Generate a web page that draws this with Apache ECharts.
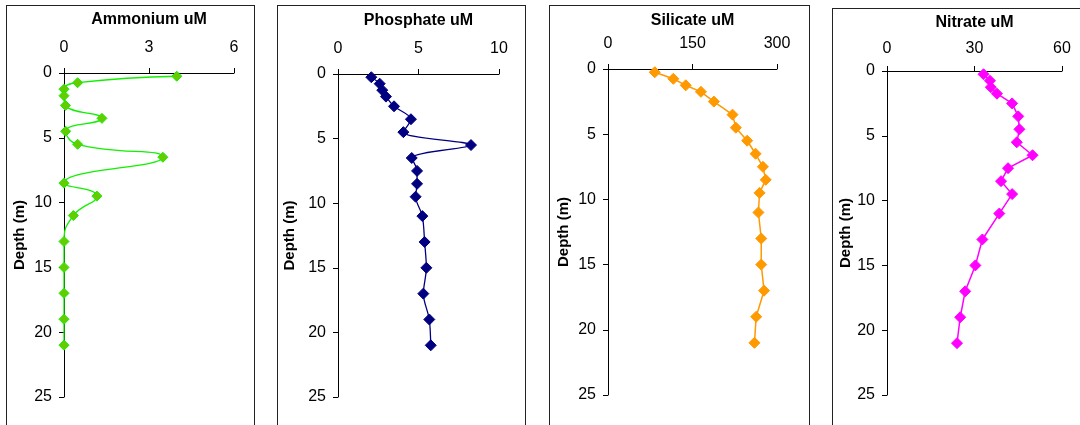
<!DOCTYPE html>
<html>
<head>
<meta charset="utf-8">
<script src="https://cdn.jsdelivr.net/npm/echarts@6/dist/echarts.min.js"></script>
<style>
  html, body { margin: 0; padding: 0; background: #fff; overflow: hidden; }
  body { width: 1080px; height: 425px; position: relative; }
  .panel { position: absolute; border: 1px solid #222; box-sizing: border-box; height: 460px; }
  .panel .chart { width: 100%; height: 458px; }
  #p1 { left: 6px; top: 5px; width: 249px; }
  #p2 { left: 277px; top: 5px; width: 249px; }
  #p3 { left: 549px; top: 5px; width: 261px; }
  #p4 { left: 832px; top: 8px; width: 262px; }
</style>
</head>
<body>
<div class="panel" id="p1"><div class="chart" id="c1"></div></div>
<div class="panel" id="p2"><div class="chart" id="c2"></div></div>
<div class="panel" id="p3"><div class="chart" id="c3"></div></div>
<div class="panel" id="p4"><div class="chart" id="c4"></div></div>
<script>
// sampling depths (m)
const depths = [0.25, 0.75, 1.25, 1.75, 2.5, 3.5, 4.5, 5.5, 6.5, 7.5, 8.5, 9.5, 11, 13, 15, 17, 19, 21];
// concentrations (uM), null = not sampled
const ammonium = [3.98, 0.48, 0, 0, 0.05, 1.34, 0.06, 0.48, 3.49, null, 0, 1.16, 0.33, 0, 0, 0, 0, 0];
const phosphate = [2.07, 2.59, 2.75, 2.98, 3.48, 4.53, 4.06, 8.26, 4.58, 4.91, 4.91, 4.82, 5.24, 5.38, 5.49, 5.30, 5.67, 5.76];
const silicate = [83, 116, 138, 165, 188, 221, 227, 247, 262, 275, 280, 269, 267, 272, 272, 277, 263, 260];
const nitrate = [33.1, 35.3, 35.6, 37.7, 42.9, 45.0, 45.4, 44.5, 49.9, 41.5, 39.1, 42.9, 38.5, 32.7, 30.3, 26.8, 25.1, 24.0];
// axis ranges
const depthMax = 25, depthStep = 5;
const ammoniumAxis = [0, 6, 3];
const phosphateAxis = [0, 10, 5];
const silicateAxis = [0, 300, 150];
const nitrateAxis = [0, 60, 30];

const axisColor = '#000';
const font = 'Liberation Sans, Arial, sans-serif';

function makeOption(p) {
    return {
        animation: false,
        grid: {
            left: p.grid[0], top: p.grid[1], width: p.grid[2], height: p.grid[3],
            containLabel: false,
            outerBoundsMode: 'none'
        },
        xAxis: {
            type: 'value',
            position: 'top',
            min: p.axis[0], max: p.axis[1], interval: p.axis[2],
            name: p.title,
            nameLocation: 'middle',
            nameGap: p.titleGap,
            nameMoveOverlap: false,
            nameTextStyle: { fontFamily: font, fontSize: 16, fontWeight: 'bold', color: '#000' },
            axisLine: { onZero: false, lineStyle: { color: axisColor, width: 1 } },
            axisTick: { show: true, length: 5, lineStyle: { color: axisColor } },
            axisLabel: { fontFamily: font, fontSize: 16, color: '#000', margin: p.labelGap },
            splitLine: { show: false }
        },
        yAxis: {
            type: 'value',
            inverse: true,
            min: 0, max: depthMax, interval: depthStep,
            name: 'Depth (m)',
            nameLocation: 'middle',
            nameRotate: 90,
            nameGap: p.depthGap,
            nameMoveOverlap: false,
            nameTextStyle: { fontFamily: font, fontSize: 15, fontWeight: 'bold', color: '#000' },
            axisLine: { show: true, onZero: false, lineStyle: { color: axisColor, width: 1 } },
            axisTick: { show: true, length: 5, lineStyle: { color: axisColor } },
            axisLabel: { fontFamily: font, fontSize: 16, color: '#000', margin: 12 },
            splitLine: { show: false }
        },
        series: [{
            type: 'line',
            data: depths.map((d, i) => [p.values[i], d]),
            connectNulls: true,
            smooth: p.smooth,
            symbol: 'diamond',
            symbolSize: p.symbolSize,
            lineStyle: { color: p.line, width: p.lineWidth },
            itemStyle: { color: p.fill, borderColor: p.line, borderWidth: 1 }
        }]
    };
}

const panels = [
    { id: 'c1', title: 'Ammonium uM', values: ammonium, axis: ammoniumAxis, grid: [57, 67, 170, 324],
      titleGap: 45, labelGap: 17, depthGap: 37, line: '#11f000', fill: '#66cc00', lineWidth: 1.3, smooth: 0.5, symbolSize: 10 },
    { id: 'c2', title: 'Phosphate uM', values: phosphate, axis: phosphateAxis, grid: [60, 68, 161, 323],
      titleGap: 45, labelGap: 17, depthGap: 41, line: '#000080', fill: '#000080', lineWidth: 1.3, smooth: 0.3, symbolSize: 11 },
    { id: 'c3', title: 'Silicate uM', values: silicate, axis: silicateAxis, grid: [58, 63, 169, 326],
      titleGap: 40, labelGap: 17, depthGap: 37, line: '#ff9900', fill: '#ff9900', lineWidth: 1.5, smooth: false, symbolSize: 11 },
    { id: 'c4', title: 'Nitrate uM', values: nitrate, axis: nitrateAxis, grid: [54, 62, 175, 324],
      titleGap: 40, labelGap: 14, depthGap: 34, line: '#ff00ff', fill: '#ff00ff', lineWidth: 1.5, smooth: false, symbolSize: 11 }
];

panels.forEach(p => {
    const chart = echarts.init(document.getElementById(p.id), null, { renderer: 'canvas' });
    chart.setOption(makeOption(p));
});
</script>
</body>
</html>
